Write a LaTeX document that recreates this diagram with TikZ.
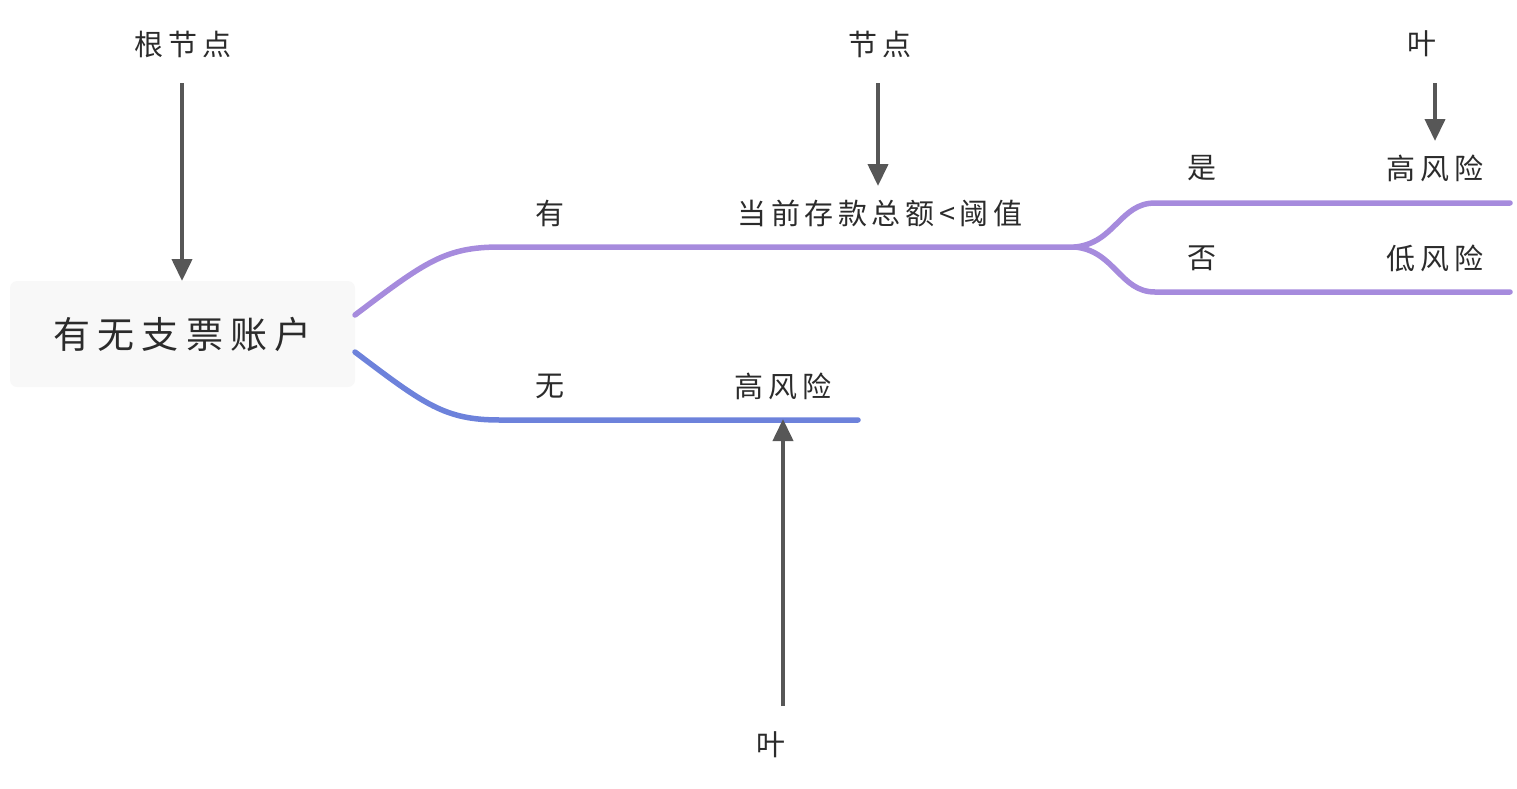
\documentclass[tikz,border=0pt]{standalone}
\usepackage{fontspec}
\usetikzlibrary{arrows.meta}
\newfontfamily\cjk[LetterSpace=16]{Noto Sans CJK SC}
\newfontfamily\cjkroot[LetterSpace=19]{Noto Sans CJK SC}
\definecolor{purp}{HTML}{A68BDD}
\definecolor{blu}{HTML}{6D82DB}
\definecolor{arrgray}{HTML}{575757}
\definecolor{rootbg}{HTML}{F8F8F8}
\definecolor{txt}{HTML}{2B2B2B}
\begin{document}
\begin{tikzpicture}[x=1pt,y=-1pt,
  lbl/.style={font=\cjk\fontsize{29}{32}\selectfont, inner sep=0pt, text=txt},
  br/.style={line width=5.5pt, line cap=round},
  arr/.style={draw=arrgray, line width=4pt, -{Triangle[width=20pt,length=22pt]}}]
\useasboundingbox (0,0) rectangle (1517,788);
% root
\node[fill=rootbg, rounded corners=7pt, minimum width=345pt, minimum height=106pt, inner sep=0pt,
      font=\cjkroot\fontsize{37}{40}\selectfont, text=txt] (root) at (182.5,334) {有无支票账户};
% branch coordinates
\coordinate (up0) at (355,315);
\coordinate (up1) at (500,247);
\coordinate (split) at (1075,247);
\coordinate (yes0) at (1155,203);
\coordinate (yes1) at (1510,203);
\coordinate (no0) at (1155,292);
\coordinate (no1) at (1510,292);
\coordinate (dn0) at (355,352);
\coordinate (dn1) at (500,420);
\coordinate (dn2) at (858,420);
% branches
\draw[br, purp] (up0) .. controls (425,262) and (445,247) .. (up1) -- (split);
\draw[br, purp] (split) .. controls (1115,243) and (1120,203) .. (yes0) -- (yes1);
\draw[br, purp] (split) .. controls (1115,251) and (1120,292) .. (no0) -- (no1);
\draw[br, blu] (dn0) .. controls (425,405) and (445,420) .. (dn1) -- (dn2);
% labels on branches
\node[lbl] (you) at (550,213) {有};
\node[lbl] (cond) at (880,213) {当前存款总额<阈值};
\node[lbl] (wu) at (550,386) {无};
\node[lbl] (hr1) at (783,386) {高风险};
\node[lbl] (shi) at (1202,168) {是};
\node[lbl] (hr2) at (1435,168) {高风险};
\node[lbl] (fou) at (1202,258) {否};
\node[lbl] (lr) at (1435,258) {低风险};
% annotations
\node[lbl] (aroot) at (183,44) {根节点};
\node[lbl] (anode) at (880,44) {节点};
\node[lbl] (aleaf1) at (1422,44) {叶};
\node[lbl] (aleaf2) at (771,745) {叶};
% arrow endpoints
\coordinate (s1) at (182,83);
\coordinate (t1) at (182,281);
\coordinate (s2) at (878,83);
\coordinate (t2) at (878,186);
\coordinate (s3) at (1435,83);
\coordinate (t3) at (1435,141);
\coordinate (s4) at (783,706);
\coordinate (t4) at (783,419);
\draw[arr] (s1) -- (t1);
\draw[arr] (s2) -- (t2);
\draw[arr] (s3) -- (t3);
\draw[arr] (s4) -- (t4);
\end{tikzpicture}
\end{document}
